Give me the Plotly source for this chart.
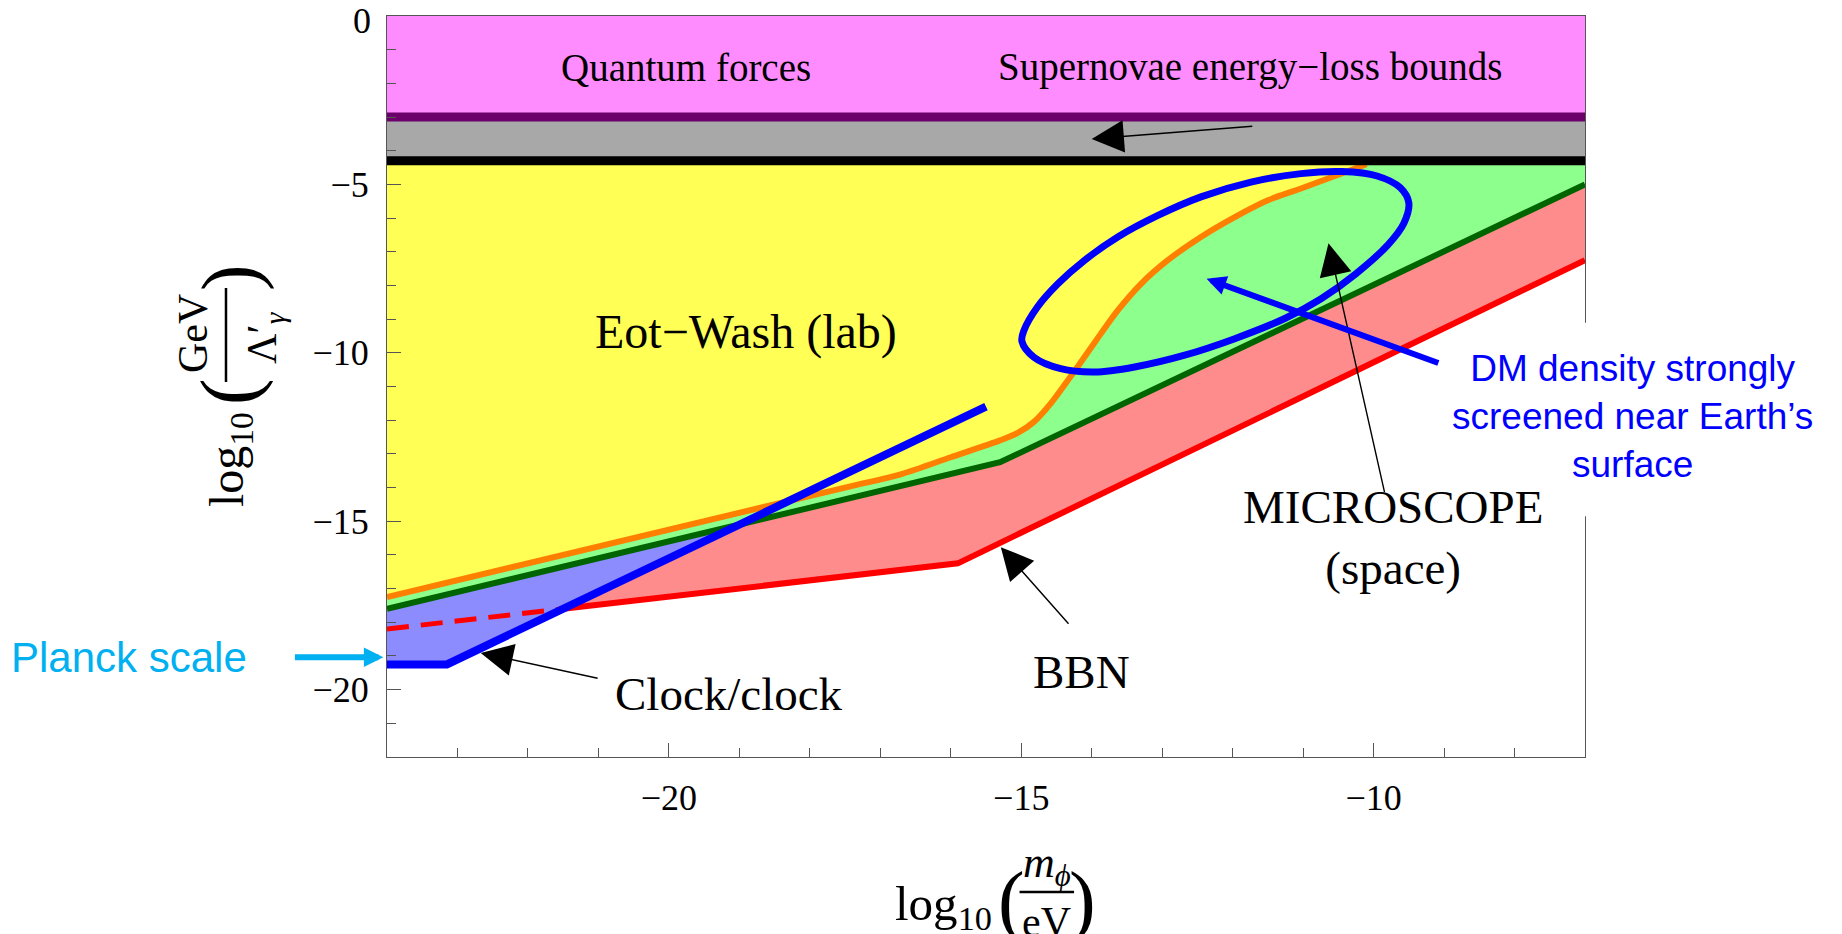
import plotly.graph_objects as go

# axis limits (log10 m/eV, log10 GeV/Lambda)
X_RANGE = [-24, -7]
Y_RANGE = [-22, 0]
Y_TICKS = [-20, -15, -10, -5, 0]

# horizontal bounds
QUANTUM_Y = -3.0
SUPERNOVA_Y = -4.3

# Eot-Wash (orange)
ORANGE_X = [-24.0, -17.5, -16.7, -16.0, -15.3, -15.05, -14.82, -14.58, -14.34, -14.1,
            -13.87, -13.63, -13.3, -12.92, -12.45, -11.97, -11.5, -11.03, -10.1]
ORANGE_Y = [-17.25, -14.0, -13.6, -13.1, -12.6, -12.38, -12.05, -11.5, -10.82, -10.12,
            -9.43, -8.74, -7.95, -7.25, -6.56, -5.97, -5.47, -5.12, -4.4]

# MICROSCOPE (dark green)
GREEN_X = [-24.0, -15.3, -7.0]
GREEN_Y = [-17.6, -13.25, -5.0]

# BBN (red); the first segment is dashed
RED_X = [-24.0, -21.5, -15.9, -7.0]
RED_Y = [-18.2, -17.6, -16.25, -7.25]

# clock/clock (blue)
CLOCK_X = [-24.0, -23.15, -15.5]
CLOCK_Y = [-19.25, -19.25, -11.6]

# hand-drawn ellipse
ELLIPSE_X = [-12.68, -13.39, -13.96, -14.44, -14.82, -14.99, -14.96, -14.77, -14.48, -14.1,
             -13.63, -13.06, -12.45, -11.74, -11.03, -10.45, -9.95, -9.62, -9.5, -9.57,
             -9.8, -10.25, -10.75, -11.26, -11.97, -12.68]
ELLIPSE_Y = [-10.07, -10.42, -10.57, -10.47, -10.13, -9.66, -9.33, -8.64, -7.95, -7.25,
             -6.56, -5.92, -5.37, -4.93, -4.68, -4.62, -4.75, -5.1, -5.55, -6.15,
             -6.8, -7.65, -8.4, -8.98, -9.58, -10.07]

SERIF = "Liberation Serif"
SANS = "Liberation Sans"


def poly(x, y, color):
    return go.Scatter(x=x, y=y, mode="lines", fill="toself", fillcolor=color,
                      line=dict(width=0, color=color), hoverinfo="skip", showlegend=False)


def line(x, y, color, width, dash=None, shape="linear", smoothing=0.8):
    return go.Scatter(x=x, y=y, mode="lines",
                      line=dict(color=color, width=width, dash=dash, shape=shape,
                                smoothing=smoothing),
                      hoverinfo="skip", showlegend=False)


x0, x1 = X_RANGE
top = Y_RANGE[1]

traces = [
    poly([x0, x1, x1, x0], [top, top, QUANTUM_Y, QUANTUM_Y], "#ff8cff"),
    poly([x0, x1, x1, x0], [QUANTUM_Y, QUANTUM_Y, SUPERNOVA_Y, SUPERNOVA_Y], "#a8a8a8"),
    # BBN band between red and green
    poly(RED_X + GREEN_X[::-1], RED_Y + GREEN_Y[::-1], "#ff8c8c"),
    # clock band: blue line up to the green line (the part above green is hidden below)
    poly(CLOCK_X + GREEN_X[1::-1], CLOCK_Y + GREEN_Y[1::-1], "#8c8cff"),
    # Eot-Wash excluded region
    poly([x0] + ORANGE_X + [ORANGE_X[-1]], [SUPERNOVA_Y] + ORANGE_Y + [SUPERNOVA_Y], "#ffff55"),
    # MICROSCOPE excluded region
    poly(GREEN_X + [x1, ORANGE_X[-1]] + ORANGE_X[::-1],
         GREEN_Y + [SUPERNOVA_Y, SUPERNOVA_Y] + ORANGE_Y[::-1], "#8cff8c"),
    line(ORANGE_X, ORANGE_Y, "#ff8000", 6, shape="spline"),
    line(GREEN_X, GREEN_Y, "#006400", 6),
    line(RED_X[:2], RED_Y[:2], "#ff0000", 5, dash="22px,12px"),
    line(RED_X[1:], RED_Y[1:], "#ff0000", 6),
    line(CLOCK_X, CLOCK_Y, "#0000ff", 8),
    line([x0, x1], [QUANTUM_Y, QUANTUM_Y], "#6b006b", 9),
    line([x0, x1], [SUPERNOVA_Y, SUPERNOVA_Y], "#000000", 9),
    line(ELLIPSE_X, ELLIPSE_Y, "#0000ff", 7, shape="spline", smoothing=1.0),
]

fig = go.Figure(data=traces)

annotations = []


def label(text, x, y, size, color="black", family=SERIF, angle=0, bg=None, ref="data",
          xanchor="center"):
    xr, yr = ("x", "y") if ref == "data" else ("paper", "paper")
    annotations.append(dict(text=text, x=x, y=y, xref=xr, yref=yr, showarrow=False,
                            xanchor=xanchor, yanchor="middle",
                            font=dict(family=family, size=size, color=color),
                            textangle=angle, align="center", bgcolor=bg))


def arrow(tip, tail, color="black", width=1.4, head=2, size=4.6):
    annotations.append(dict(text="", x=tip[0], y=tip[1], ax=tail[0], ay=tail[1],
                            xref="x", yref="y", axref="x", ayref="y", showarrow=True,
                            arrowhead=head, arrowsize=size, arrowwidth=width,
                            arrowcolor=color, standoff=0))


label("Quantum forces", -19.76, -1.52, 39)
label("Supernovae energy−loss bounds", -11.76, -1.52, 39)
label("Eot−Wash (lab)", -18.9, -9.37, 48)
label("MICROSCOPE<br>(space)", -9.72, -15.49, 47)
label("BBN", -14.14, -19.49, 47)
label("Clock/clock", -19.15, -20.12, 47)
label("DM density strongly<br>screened near Earth’s<br>surface", 1.04, 0.459, 37,
      color="#0000ff", family=SANS, bg="white", ref="paper")
label("Planck scale", -0.2152, 0.134, 42, color="#00b0f0", family=SANS, ref="paper")

# top tick label sits a little below the frame so it is not clipped
label(str(Y_TICKS[-1]), -0.012, 0.9933, 36, ref="paper", xanchor="right")

arrow((-14.0, -3.65), (-11.7, -3.27))
arrow((-22.67, -18.91), (-20.99, -19.67))
arrow((-15.29, -15.77), (-14.31, -18.09))
arrow((-10.64, -6.75), (-9.84, -14.18))
arrow((-12.37, -7.8), (-9.06, -10.32), color="#0000ff", width=6, size=0.65)
# Planck scale arrow sits left of the frame
annotations.append(dict(text="", x=-0.003, y=0.1345, xref="paper", yref="paper",
                        ax=-90, ay=0, axref="pixel", ayref="pixel", showarrow=True,
                        arrowhead=2, arrowsize=0.65, arrowwidth=6, arrowcolor="#00b0f0",
                        standoff=0))

# x-axis title: log10(m_phi / eV)
label("log<sub>10</sub>", 0.4646, -0.2024, 49, ref="paper")
label("(", 0.5215, -0.193, 80, ref="paper")
label(")", 0.5803, -0.193, 80, ref="paper")
label("<i>m</i><sub><i>ϕ</i></sub>", 0.5507, -0.1468, 44, ref="paper")
label("eV", 0.5507, -0.2227, 42, ref="paper")

# y-axis title: log10(GeV / Lambda'_gamma)
label("log<sub>10</sub>", -0.131, 0.4008, 48, angle=-90, ref="paper")
label("(", -0.131, 0.4926, 80, angle=-90, ref="paper")
label(")", -0.131, 0.6464, 80, angle=-90, ref="paper")
label("GeV", -0.1619, 0.5709, 42, angle=-90, ref="paper")
label("Λ′<sub><i>γ</i></sub>", -0.1018, 0.5655, 42, angle=-90, ref="paper")

shapes = [
    # fraction bars
    dict(type="line", xref="paper", yref="paper", x0=0.528, x1=0.5735, y0=-0.1823, y1=-0.1823,
         line=dict(color="black", width=2.5)),
    dict(type="line", xref="paper", yref="paper", x0=-0.1344, x1=-0.1344, y0=0.5061, y1=0.6329,
         line=dict(color="black", width=2.5)),
    # the label box hides part of the right frame
    dict(type="rect", xref="paper", yref="paper", x0=0.993, x1=1.01, y0=0.325, y1=0.586,
         fillcolor="white", line=dict(width=0), layer="above"),
]

axis_common = dict(
    showgrid=False, zeroline=False, showline=True, mirror=True,
    linecolor="#555555", linewidth=1,
    ticks="inside", ticklen=14, tickwidth=1, tickcolor="#555555",
    tickfont=dict(family=SERIF, size=36, color="black"),
    automargin=False,
    minor=dict(dtick=1, ticks="inside", ticklen=9, tickwidth=1, tickcolor="#555555"),
)

# the page body adds an 8px margin, so the figure is 8px smaller each way
fig.update_layout(
    width=1834, height=926,
    margin=dict(l=379, r=257, t=8, b=177, autoexpand=False),
    paper_bgcolor="white", plot_bgcolor="white",
    xaxis=dict(range=X_RANGE, dtick=5, tick0=0, ticklabelstandoff=9, **axis_common),
    yaxis=dict(range=Y_RANGE, tickvals=Y_TICKS[:-1], ticklabelstandoff=10, **axis_common),
    annotations=annotations,
    shapes=shapes,
    showlegend=False,
)

fig.write_html("out.html")
